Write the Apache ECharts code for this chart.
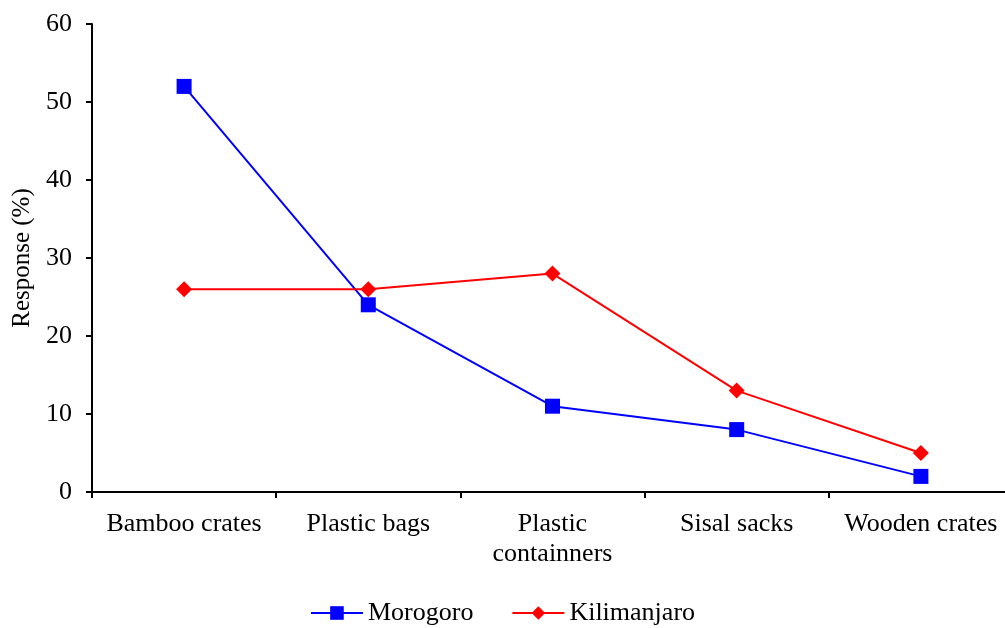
<!DOCTYPE html>
<html><head><meta charset="utf-8">
<script src="https://cdn.jsdelivr.net/npm/echarts@6/dist/echarts.min.js"></script>
<style>html,body{margin:0;padding:0;background:#fff}#c{width:1005px;height:628px}</style>
</head><body><div id="c"></div>
<script>
var categories = ['Bamboo crates', 'Plastic bags', 'Plastic\ncontainners', 'Sisal sacks', 'Wooden crates'];
var morogoro = [52, 24, 11, 8, 2];
var kilimanjaro = [26, 26, 28, 13, 5];
var yTicks = [0, 10, 20, 30, 40, 50, 60];

var font = 'Liberation Serif, Times New Roman, serif';
var chart = echarts.init(document.getElementById('c'), null, {renderer: 'canvas'});
chart.setOption({
  animation: false,
  textStyle: {fontFamily: font},
  grid: {left: 92, right: -8, top: 24, bottom: 136, containLabel: false, outerBoundsMode: 'none'},
  legend: {
    bottom: -3, left: 'center', itemWidth: 52, itemHeight: 17, itemGap: 38,
    textStyle: {fontFamily: font, fontSize: 26, color: '#000'},
    data: ['Morogoro', 'Kilimanjaro']
  },
  xAxis: {
    type: 'category', data: categories, boundaryGap: true,
    axisLine: {lineStyle: {color: '#000', width: 2}},
    axisTick: {show: true, length: 6, lineStyle: {color: '#000', width: 2}},
    axisLabel: {color: '#000', fontSize: 26, fontFamily: font, margin: 17, lineHeight: 30, interval: 0}
  },
  yAxis: {
    type: 'value', min: yTicks[0], max: yTicks[yTicks.length - 1], interval: 10,
    name: 'Response (%)', nameLocation: 'middle', nameGap: 57, nameRotate: 90,
    nameTextStyle: {color: '#000', fontSize: 25, fontFamily: font},
    axisLine: {show: true, lineStyle: {color: '#000', width: 2}},
    axisTick: {show: true, length: 6, lineStyle: {color: '#000', width: 2}},
    axisLabel: {color: '#000', fontSize: 26, fontFamily: font, margin: 20},
    splitLine: {show: false}
  },
  series: [
    {name: 'Morogoro', type: 'line', data: morogoro, symbol: 'rect', symbolSize: 15,
     lineStyle: {color: '#0000ff', width: 2}, itemStyle: {color: '#0000ff'}},
    {name: 'Kilimanjaro', type: 'line', data: kilimanjaro, symbol: 'diamond', symbolSize: 16,
     lineStyle: {color: '#ff0000', width: 2}, itemStyle: {color: '#ff0000'}}
  ]
});
</script></body></html>
